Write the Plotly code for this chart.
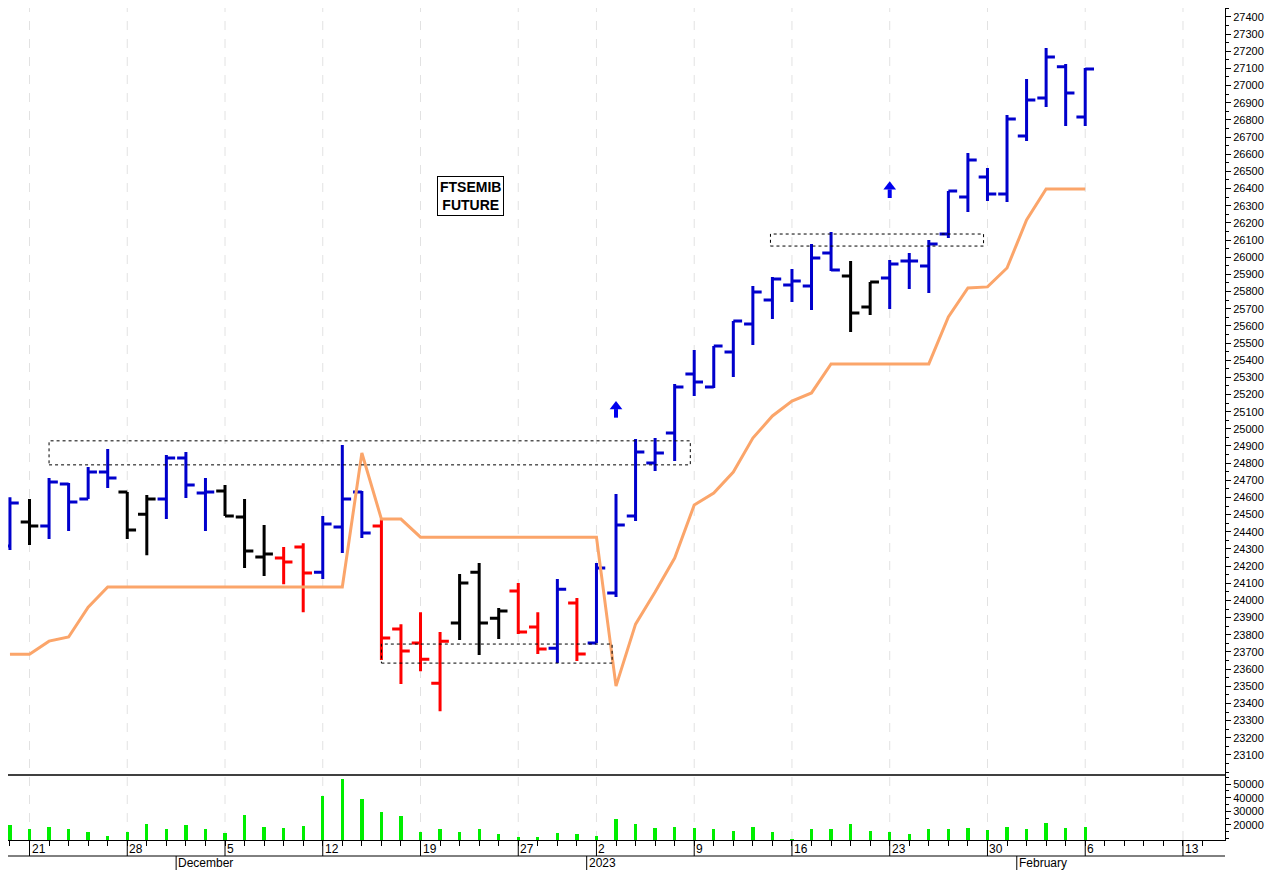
import plotly.graph_objects as go
from plotly.subplots import make_subplots

# trading day index 0 = 18 Nov 2022 ... 55 = 6 Feb 2023
opens = [24317, 24457, 24434, 24678, 24591, 24748, 24632, 24503, 24591, 24830,
         24626, 24638, 24486, 24253, 24247, 24311, 24165, 24428, 24632, 24434,
         23833, 23752, 23518, 23868, 24165, 23897, 24055, 23845, 23722, 23985,
         23752, 24043, 24492, 24801, 24975, 25319, 25244, 25448, 25611, 25751,
         25838, 25832, 26025, 25890, 25710, 25879, 25978, 25949, 26135, 26351,
         26467, 26368, 26706, 26928, 27109, 26817]
highs = [24602, 24591, 24713, 24684, 24777, 24882, 24632, 24614, 24847, 24865,
         24713, 24672, 24591, 24439, 24311, 24334, 24492, 24906, 24638, 24474,
         23862, 23932, 23816, 24154, 24218, 23956, 24101, 23932, 24125, 24014,
         24218, 24620, 24941, 24946, 25261, 25459, 25483, 25628, 25832, 25885,
         25931, 26077, 26147, 25978, 25856, 25984, 26025, 26100, 26386, 26607,
         26520, 26829, 27039, 27219, 27126, 27103]
lows = [24294, 24323, 24358, 24404, 24591, 24655, 24358, 24264, 24474, 24597,
        24404, 24492, 24189, 24142, 24095, 23932, 24125, 24276, 24364, 23653,
        23513, 23588, 23355, 23769, 23682, 23775, 23804, 23688, 23635, 23647,
        23752, 24020, 24463, 24754, 24812, 25191, 25238, 25302, 25488, 25640,
        25739, 25692, 25920, 25564, 25663, 25698, 25815, 25791, 26112, 26263,
        26328, 26322, 26677, 26875, 26765, 26765]
closes = [24568, 24434, 24690, 24573, 24748, 24713, 24410, 24591, 24830, 24672,
          24632, 24492, 24288, 24270, 24224, 24160, 24445, 24591, 24393, 23781,
          23705, 23658, 23763, 24101, 23868, 23938, 23816, 23717, 24066, 23688,
          24189, 24439, 24865, 24859, 25244, 25273, 25483, 25628, 25797, 25873,
          25861, 25995, 25925, 25675, 25856, 25960, 25978, 26077, 26386, 26567,
          26368, 26805, 26916, 27167, 26957, 27097]
bar_colors = (["b", "k", "b", "b", "b", "b", "k", "k", "b", "b", "b", "k", "k", "k",
               "r", "r", "b", "b", "b", "r", "r", "r", "r", "k", "k", "k", "r", "r",
               "b", "r"] + ["b"] * 13 + ["k", "k"] + ["b"] * 11)
stop_line = [23687, 23687, 23763, 23787, 23961] + [24078] * 13 + [24859, 24474, 24474] \
    + [24369] * 10 + [23501, 23862, 24049, 24247, 24556, 24626, 24748, 24946, 25075,
                      25162, 25209] + [25378] * 6 + [25652, 25821, 25827, 25937, 26217,
                                                     26398, 26398, 26398]
volume = [20000, 16750, 18750, 16750, 15000, 11750, 15000, 20750, 16750, 20000,
          16750, 14000, 27500, 18250, 17500, 19500, 41250, 53750, 38750, 29750,
          26750, 14500, 17000, 14750, 16750, 13250, 11000, 11000, 14000, 13250,
          11750, 24500, 20750, 17500, 18250, 17500, 16750, 15500, 18750, 14500,
          9500, 17000, 16750, 20750, 15500, 14750, 13750, 16750, 16750, 17500,
          16000, 18250, 17000, 21750, 17500, 18500]

day_ticks = [1, 6, 11, 16, 21, 26, 30, 35, 40, 45, 50, 55, 60]
day_labels = ["21", "28", "5", "12", "19", "27", "2", "9", "16", "23", "30", "6", "13"]
month_ticks = [9, 30, 52]
month_labels = ["December", "2023", "February"]
signal_x = [31, 45]
signal_y = [25110, 26390]
price_ticks = list(range(23100, 27500, 100))
# dashed boxes: x0, x1, y0, y1
boxes = [(2.0, 34.8, 24790, 24930), (19.0, 30.8, 23635, 23746), (38.9, 49.8, 26065, 26135)]

n_days = 62
palette = {"b": "#0000cc", "k": "#000000", "r": "#ff0000"}
x = list(range(len(opens)))
plot_h = 832
vol_frac = 65 / plot_h
row1 = 16 / plot_h
row2 = 31 / plot_h

fig = make_subplots(rows=2, cols=1, shared_xaxes=True, vertical_spacing=0,
                    row_heights=[1 - vol_frac, vol_frac])

for code, col in palette.items():
    idx = [i for i in x if bar_colors[i] == code]
    fig.add_trace(go.Ohlc(
        x=idx, open=[opens[i] for i in idx], high=[highs[i] for i in idx],
        low=[lows[i] for i in idx], close=[closes[i] for i in idx],
        increasing=dict(line=dict(color=col, width=3)),
        decreasing=dict(line=dict(color=col, width=3)),
        tickwidth=0.45, hoverinfo="skip"), row=1, col=1)

fig.add_trace(go.Scatter(x=x, y=stop_line, mode="lines",
                         line=dict(color="#fba56a", width=3), hoverinfo="skip"), row=1, col=1)
fig.add_trace(go.Bar(x=x, y=volume, marker_color="#00ee00", width=0.17,
                     marker_line_width=0), row=2, col=1)

# buy signals: block arrow = shaft + head
for sx, sy in zip(signal_x, signal_y):
    fig.add_trace(go.Scatter(x=[sx, sx], y=[sy - 45, sy + 5], mode="lines",
                             line=dict(color="#0000ee", width=4), hoverinfo="skip"),
                  row=1, col=1)
fig.add_trace(go.Scatter(x=signal_x, y=[v + 20 for v in signal_y], mode="markers",
                         marker=dict(symbol="triangle-up", size=11, color="#0000ee",
                                     line=dict(width=0)), hoverinfo="skip"), row=1, col=1)

for x0, x1, y0, y1 in boxes:
    fig.add_shape(type="rect", x0=x0, x1=x1, y0=y0, y1=y1, xref="x", yref="y",
                  line=dict(color="black", width=1, dash="dot"))

for t in day_ticks:
    fig.add_shape(type="line", xref="x", yref="paper", x0=t, x1=t, y0=0, y1=1,
                  line=dict(color="#e2e2e2", width=1, dash="dash"), layer="below")
    fig.add_shape(type="line", xref="x", yref="paper", x0=t, x1=t, y0=-row1, y1=0,
                  line=dict(color="black", width=1))
for t, lab in zip(day_ticks, day_labels):
    fig.add_annotation(x=t, y=0, xref="x", yref="paper", text=lab, showarrow=False,
                       xanchor="left", yanchor="top", xshift=0, yshift=0,
                       font=dict(size=12, color="black"))
for t, lab in zip(month_ticks, month_labels):
    fig.add_shape(type="line", xref="x", yref="paper", x0=t - 0.5, x1=t - 0.5,
                  y0=-row2, y1=-row1, line=dict(color="black", width=1))
    fig.add_annotation(x=t - 0.5, y=-row1, xref="x", yref="paper", text=lab,
                       showarrow=False, xanchor="left", yanchor="top", xshift=0,
                       yshift=2, font=dict(size=12, color="black"))

# frame lines
fig.add_shape(type="line", xref="paper", yref="paper", x0=0, x1=1, y0=vol_frac, y1=vol_frac,
              line=dict(color="black", width=1.5))
fig.add_shape(type="line", xref="paper", yref="paper", x0=0, x1=1, y0=-row1, y1=-row1,
              line=dict(color="black", width=1))

fig.add_annotation(x=0.3804, y=0.798, xref="paper", yref="paper",
                   text="<b>FTSEMIB<br>FUTURE</b>", showarrow=False,
                   bordercolor="black", borderwidth=1, bgcolor="white", borderpad=2,
                   font=dict(size=14, color="black", family="Liberation Sans"))

fig.update_xaxes(range=[-0.1, 62.15], showgrid=False, zeroline=False,
                 rangeslider_visible=False, showticklabels=False)
fig.update_xaxes(tickvals=list(range(n_days)), ticks="outside", ticklen=5,
                 tickcolor="black", showline=True, linecolor="black", row=2, col=1)
fig.update_yaxes(side="right", showgrid=False, zeroline=False, showline=True,
                 linecolor="black", ticks="outside", ticklen=5, tickcolor="black",
                 tickformat="d", tickfont=dict(size=11, color="black"))
fig.update_yaxes(range=[22983, 27452], tickvals=price_ticks,
                 minor=dict(dtick=50, ticks="outside", ticklen=3, tickcolor="black"),
                 row=1, col=1)
fig.update_yaxes(range=[9000, 56600], tickvals=[20000, 30000, 40000, 50000],
                 minor=dict(dtick=5000, ticks="outside", ticklen=3, tickcolor="black"),
                 row=2, col=1)
fig.update_layout(width=1275, height=870, showlegend=False,
                  margin=dict(l=0, r=58, t=0, b=38),
                  plot_bgcolor="white", paper_bgcolor="white",
                  font=dict(family="Liberation Sans", color="black"), bargap=0)
fig.write_html("out.html")
